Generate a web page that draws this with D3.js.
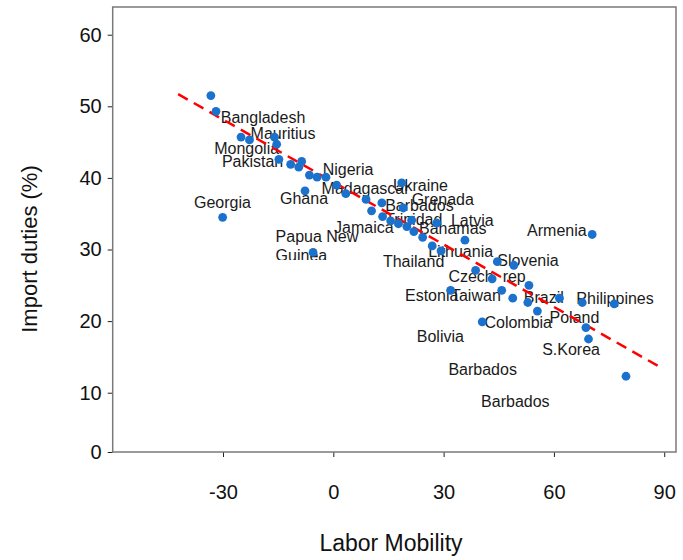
<!DOCTYPE html>
<html>
<head>
<meta charset="utf-8">
<script src="https://cdnjs.cloudflare.com/ajax/libs/d3/7.8.5/d3.min.js"></script>
<style>
  body { margin: 0; background: #fff; }
  text { font-family: "Liberation Sans", Arial, sans-serif; }
</style>
</head>
<body>
<div id="chart"></div>
<script>
// Labor mobility (x) against import duties in % (y), one dot per country
var mobility = [-33.3, -31.9, -25.1, -22.8, -16.0, -15.4, -14.8, -11.6, -9.4, -8.6,
  -6.5, -4.4, -2.0, 0.9, 3.4, -7.7, -30.1, -5.5, 8.9, 13.2,
  18.6, 10.4, 13.4, 15.6, 17.7, 20.0, 21.3, 21.9, 24.3, 28.1,
  35.8, 26.9, 29.3, 38.7, 43.2, 44.6, 49.1, 53.2, 45.8, 31.9,
  48.8, 52.9, 61.5, 67.7, 76.4, 55.5, 40.5, 68.7, 69.4, 79.6,
  70.4, 19.0];
var duties = [51.5, 49.3, 45.7, 45.3, 45.7, 44.7, 42.6, 41.9, 41.5, 42.3,
  40.4, 40.1, 40.1, 39.0, 37.8, 38.2, 34.5, 29.6, 37.0, 36.5,
  39.3, 35.4, 34.6, 34.0, 33.6, 33.2, 34.1, 32.5, 31.7, 33.7,
  31.3, 30.5, 29.8, 27.1, 25.9, 28.3, 27.8, 25.0, 24.3, 24.3,
  23.2, 22.6, 23.2, 22.6, 22.4, 21.4, 19.9, 19.1, 17.5, 12.3,
  32.1, 35.8];

// country names and where their text starts (data units, baseline)
var labelNames = ["Bangladesh", "Mauritius", "Mongolia", "Pakistan", "Nigeria", "Madagascar",
  "Ghana", "Georgia", "Ukraine", "Grenada", "Barbados", "Trinidad", "Latvia", "Jamaica",
  "Bahamas", "Papua New", "Guinea", "Thailand", "Lithuania", "Slovenia", "Armenia",
  "Czech  rep", "Estonia", "Taiwan", "Brazil", "Philippines", "Poland", "Colombia",
  "Bolivia", "S.Korea", "Barbados", "Barbados"];
var labelX = [-30.6, -22.5, -32.4, -30.3, -2.9, -3.2, -14.5, -37.9, 16.2, 21.3, 14.1, 14.1,
  32.0, 0.2, 23.3, -15.7, -15.7, 13.5, 25.8, 44.6, 52.7, 31.3, 19.5, 32.0, 51.8, 66.1,
  58.8, 41.1, 22.7, 56.8, 31.3, 40.2];
var labelY = [47.7, 45.4, 43.4, 41.5, 40.4, 37.8, 36.3, 35.8, 38.2, 36.2, 35.4, 33.4,
  33.3, 32.3, 32.2, 31.1, 28.4, 27.6, 28.9, 27.7, 31.9, 25.5, 22.8, 22.8, 22.5, 22.4,
  19.7, 19.1, 17.1, 15.2, 12.5, 8.0];

// fitted line end points
var fitX = [-42.2, 88.8];
var fitY = [51.7, 13.6];

var xTicks = [-30, 0, 30, 60, 90];
var yTicks = [10, 20, 30, 40, 50, 60];

var W = 683, H = 560;
var plotL = 112.7, plotR = 676, plotT = 7, plotB = 452;

var svg = d3.select("#chart").append("svg")
  .attr("width", W).attr("height", H);

var x = d3.scaleLinear().domain([-60, 93.2]).range([plotL, plotR]);
var y = d3.scaleLinear().domain([1.72, 63.87]).range([plotB, plotT]);

// y axis: bottom edge carries the "0" label
svg.append("g")
  .attr("transform", "translate(" + plotL + ",0)")
  .call(d3.axisLeft(y).tickValues([y.domain()[0]].concat(yTicks))
    .tickSize(5).tickPadding(6)
    .tickFormat(function(d) { return d < 5 ? "0" : String(d); }))
  .call(function(g) {
    g.select(".domain").remove();
    g.selectAll("line").attr("stroke", "#222");
    g.selectAll("text").attr("font-size", 20).attr("fill", "#111")
      .attr("font-family", "'Liberation Sans', Arial, sans-serif");
  });

svg.append("g")
  .attr("transform", "translate(0," + plotB + ")")
  .call(d3.axisBottom(x).tickValues(xTicks).tickSize(5).tickPadding(28)
    .tickFormat(function(d) { return String(d); }))
  .call(function(g) {
    g.select(".domain").remove();
    g.selectAll("line").attr("stroke", "#222");
    g.selectAll("text").attr("font-size", 20).attr("fill", "#111")
      .attr("font-family", "'Liberation Sans', Arial, sans-serif");
  });

// plot frame
svg.append("rect")
  .attr("x", plotL).attr("y", plotT)
  .attr("width", plotR - plotL).attr("height", plotB - plotT)
  .attr("fill", "none").attr("stroke", "#7a7a7a").attr("stroke-width", 1.5);

// clip for the cut-off "Guinea" label
svg.append("clipPath").attr("id", "guineaClip")
  .append("rect").attr("x", 0).attr("y", 0).attr("width", W).attr("height", 260);

// country labels under the dots
svg.append("g").selectAll("text")
  .data(labelNames)
  .enter().append("text")
  .attr("x", function(d, i) { return x(labelX[i]); })
  .attr("y", function(d, i) { return y(labelY[i]); })
  .attr("font-size", 16)
  .attr("fill", "#1a1a1a")
  .style("white-space", "pre")
  .attr("clip-path", function(d) { return d === "Guinea" ? "url(#guineaClip)" : null; })
  .text(function(d) { return d; });

// red dashed fit line
svg.append("line")
  .attr("x1", x(fitX[0])).attr("y1", y(fitY[0]))
  .attr("x2", x(fitX[1])).attr("y2", y(fitY[1]))
  .attr("stroke", "#ff0000")
  .attr("stroke-width", 2.5)
  .attr("stroke-dasharray", "11,7");

// dots
svg.append("g").selectAll("circle")
  .data(mobility)
  .enter().append("circle")
  .attr("cx", function(d) { return x(d); })
  .attr("cy", function(d, i) { return y(duties[i]); })
  .attr("r", 4.4)
  .attr("fill", "#1b72cc");

// axis titles
svg.append("text")
  .attr("x", 391).attr("y", 551)
  .attr("text-anchor", "middle")
  .attr("font-size", 23)
  .attr("fill", "#111")
  .text("Labor Mobility");

svg.append("text")
  .attr("transform", "translate(37,249) rotate(-90)")
  .attr("text-anchor", "middle")
  .attr("font-size", 22)
  .attr("fill", "#111")
  .text("Import duties (%)");
</script>
</body>
</html>
